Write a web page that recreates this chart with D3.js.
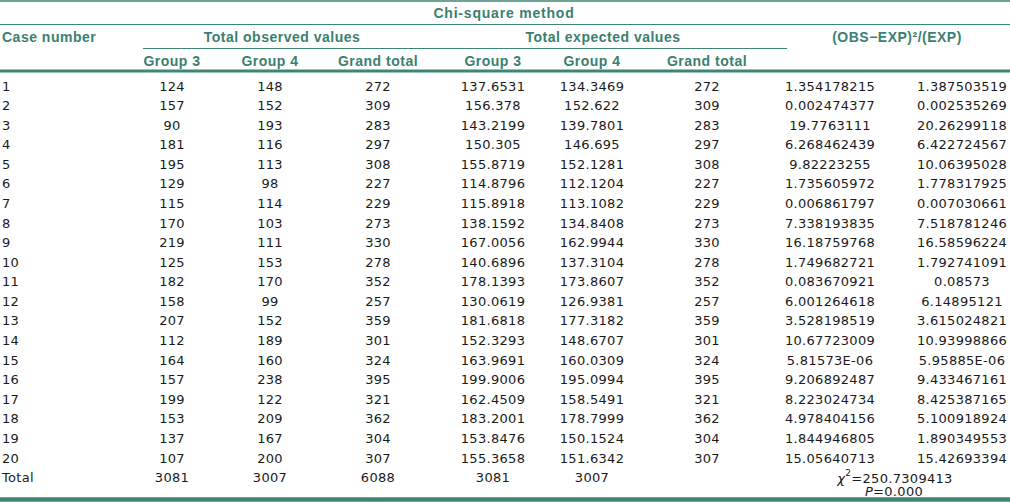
<!DOCTYPE html>
<html>
<head>
<meta charset="utf-8">
<script src="https://cdn.jsdelivr.net/npm/d3@7"></script>
<style>
  body { margin: 0; background: #fff; }
  .head { font-family: "Liberation Sans", Arial, sans-serif; font-weight: bold; font-size: 14px; fill: #3b7f70; letter-spacing: 0.5px; }
  .cell { font-family: "DejaVu Sans", sans-serif; font-size: 13px; fill: #1a1a1a; letter-spacing: 0.3px; }
</style>
</head>
<body>
<div class="svg"></div>
<script>
//Config
var width = 1010,
    height = 503,
    lineColor = "#3e8674";

//Data
var cases = ["1","2","3","4","5","6","7","8","9","10","11","12","13","14","15","16","17","18","19","20"];
var obsGroup3 = [124,157,90,181,195,129,115,170,219,125,182,158,207,112,164,157,199,153,137,107];
var obsGroup4 = [148,152,193,116,113,98,114,103,111,153,170,99,152,189,160,238,122,209,167,200];
var obsTotal = [272,309,283,297,308,227,229,273,330,278,352,257,359,301,324,395,321,362,304,307];
var expGroup3 = ["137.6531","156.378","143.2199","150.305","155.8719","114.8796","115.8918","138.1592","167.0056","140.6896",
                 "178.1393","130.0619","181.6818","152.3293","163.9691","199.9006","162.4509","183.2001","153.8476","155.3658"];
var expGroup4 = ["134.3469","152.622","139.7801","146.695","152.1281","112.1204","113.1082","134.8408","162.9944","137.3104",
                 "173.8607","126.9381","177.3182","148.6707","160.0309","195.0994","158.5491","178.7999","150.1524","151.6342"];
var expTotal = [272,309,283,297,308,227,229,273,330,278,352,257,359,301,324,395,321,362,304,307];
var chiGroup3 = ["1.354178215","0.002474377","19.7763111","6.268462439","9.82223255","1.735605972","0.006861797","7.338193835",
                 "16.18759768","1.749682721","0.083670921","6.001264618","3.528198519","10.67723009","5.81573E-06","9.206892487",
                 "8.223024734","4.978404156","1.844946805","15.05640713"];
var chiGroup4 = ["1.387503519","0.002535269","20.26299118","6.422724567","10.06395028","1.778317925","0.007030661","7.518781246",
                 "16.58596224","1.792741091","0.08573","6.14895121","3.615024821","10.93998866","5.95885E-06","9.433467161",
                 "8.425387165","5.100918924","1.890349553","15.42693394"];
var totals = ["Total","3081","3007","6088","3081","3007",""];
var chiSquare = "250.7309413",
    pValue = "0.000";

var groupHeads = ["Group 3","Group 4","Grand total","Group 3","Group 4","Grand total"];

//Column centres
var colX = [2, 172, 270, 378, 493, 592, 707, 830, 962];

var svg = d3.select(".svg")
    .append("svg")
    .attr("width", width)
    .attr("height", height);

//Row scale
var y = d3.scaleLinear()
    .domain([0, cases.length])
    .range([86, 86 + cases.length * 19.58]);

//Rules
function rule(x1, x2, yy, w) {
  svg.append("line")
    .attr("x1", x1).attr("x2", x2)
    .attr("y1", yy).attr("y2", yy)
    .style("stroke", lineColor)
    .style("stroke-width", w);
}
rule(0, width, 1, 1.5);
rule(0, width, 24.5, 1.2);
rule(143, 787, 48.5, 1.2);
rule(0, width, 71, 3.2);
rule(0, width, 499.5, 4.5);

//Headers
function head(txt, x, yy, anchor) {
  return svg.append("text")
    .attr("class", "head")
    .attr("x", x).attr("y", yy)
    .attr("dominant-baseline", "central")
    .style("text-anchor", anchor || "middle")
    .text(txt);
}
head("Chi-square method", 504, 12.5).style("letter-spacing", "0.8px");
head("Case number", 2, 36.5, "start");
head("Total observed values", 282, 36.5);
head("Total expected values", 603, 36.5);
head("(OBS\u2212EXP)\u00b2/(EXP)", 897, 36.5);

svg.selectAll(".ghead")
  .data(groupHeads)
  .enter()
  .append("text")
  .attr("class", "head ghead")
  .attr("x", function (d, i) { return colX[i + 1]; })
  .attr("y", 60.5)
  .attr("dominant-baseline", "central")
  .style("text-anchor", "middle")
  .text(function (d) { return d; });

//Body rows
var rows = cases.map(function (c, i) {
  return [c, obsGroup3[i], obsGroup4[i], obsTotal[i], expGroup3[i], expGroup4[i], expTotal[i], chiGroup3[i], chiGroup4[i]];
});

var rowG = svg.selectAll(".row")
  .data(rows)
  .enter()
  .append("g")
  .classed("row", true)
  .attr("transform", function (d, i) { return "translate(0," + y(i) + ")"; });

rowG.selectAll("text")
  .data(function (d) { return d; })
  .enter()
  .append("text")
  .attr("class", "cell")
  .attr("x", function (d, j) { return colX[j]; })
  .attr("dominant-baseline", "central")
  .style("text-anchor", function (d, j) { return j === 0 ? "start" : "middle"; })
  .text(function (d) { return d; });

//Total row
var totY = y(cases.length);
svg.selectAll(".tot")
  .data(totals)
  .enter()
  .append("text")
  .attr("class", "cell tot")
  .attr("x", function (d, j) { return colX[j]; })
  .attr("y", totY)
  .attr("dominant-baseline", "central")
  .style("text-anchor", function (d, j) { return j === 0 ? "start" : "middle"; })
  .text(function (d) { return d; });

var chi = svg.append("text")
  .attr("class", "cell")
  .attr("x", 895).attr("y", totY)
  .attr("dominant-baseline", "central")
  .style("text-anchor", "middle");
chi.append("tspan").style("font-style", "italic").text("\u03c7");
chi.append("tspan").attr("dy", -5).style("font-size", "9px").text("2");
chi.append("tspan").attr("dy", 5).text("=" + chiSquare);

var p = svg.append("text")
  .attr("class", "cell")
  .attr("x", 894).attr("y", totY + 13)
  .attr("dominant-baseline", "central")
  .style("text-anchor", "middle");
p.append("tspan").style("font-style", "italic").text("P");
p.append("tspan").text("=" + pValue);
</script>
</body>
</html>
